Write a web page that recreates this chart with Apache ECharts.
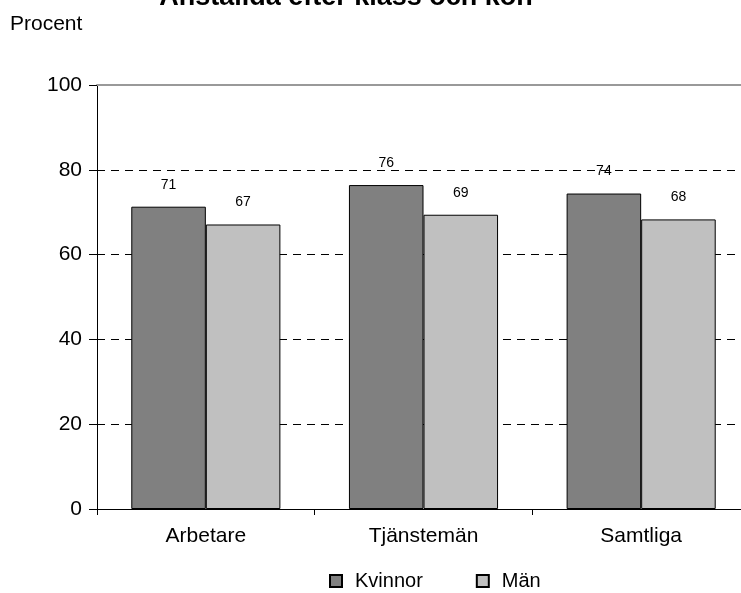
<!DOCTYPE html>
<html><head><meta charset="utf-8">
<script src="https://cdn.jsdelivr.net/npm/echarts@6/dist/echarts.min.js"></script>
<style>html,body{margin:0;padding:0;background:#fff;overflow:hidden}#c{width:760px;height:593px}</style>
</head><body><div id="c"></div>
<script>
const categories = ['Arbetare', 'Tjänstemän', 'Samtliga'];
const kvinnor = [71.3, 76.4, 74.4];
const man = [67.1, 69.4, 68.3];
const yTicks = [0, 20, 40, 60, 80, 100];

const FF = 'Liberation Sans, Arial, sans-serif';
const chart = echarts.init(document.getElementById('c'));
const lbl = {show: true, position: 'top', distance: 15, fontSize: 14, color: '#000',
  fontFamily: FF, formatter: p => Math.round(p.value)};
chart.setOption({
  animation: false,
  title: [{text: 'Anställda efter klass och kön', left: 341, textAlign: 'center', top: -21,
    textStyle: {fontSize: 27, fontWeight: 'bold', color: '#000', fontFamily: FF}},
    {text: 'Procent', left: 5, top: 9, textStyle: {fontSize: 21, fontWeight: 'normal', color: '#000', fontFamily: FF}}],
  legend: {top: 566, left: 324, itemGap: 53, itemWidth: 12, itemHeight: 12, icon: 'rect',
    textStyle: {fontSize: 20, color: '#000', fontFamily: FF, padding: [0, 0, 0, 8]},
    data: ['Kvinnor', 'Män']},
  grid: {left: 97, right: 10, top: 85, bottom: 84, containLabel: false},
  xAxis: [{type: 'category', data: categories,
    axisLine: {lineStyle: {color: '#000'}},
    axisTick: {show: true, length: 6, lineStyle: {color: '#000'}},
    axisLabel: {fontSize: 21, color: '#000', margin: 17, fontFamily: FF}},
    {type: 'category', data: categories, position: 'top',
    axisLine: {show: true, lineStyle: {color: '#999', width: 2}},
    axisTick: {show: false}, axisLabel: {show: false}, splitLine: {show: false}}],
  yAxis: {type: 'value', min: 0, max: 100, interval: 20,
    axisLine: {show: true, lineStyle: {color: '#000'}},
    axisTick: {show: true, length: 8, lineStyle: {color: '#000'}},
    axisLabel: {fontSize: 21, color: '#000', margin: 15, fontFamily: FF,
      formatter: v => yTicks.includes(v) ? String(v) : ''},
    splitLine: {show: true, lineStyle: {color: ['#000', '#000', '#000', '#000', '#000', 'rgba(0,0,0,0)'], type: [8, 6], width: 1}}},
  series: [
    {name: 'Kvinnor', type: 'bar', data: kvinnor, barGap: '0%', barCategoryGap: '31.5%',
      itemStyle: {color: '#808080', borderColor: '#000', borderWidth: 1}, label: lbl},
    {name: 'Män', type: 'bar', data: man,
      itemStyle: {color: '#c0c0c0', borderColor: '#000', borderWidth: 1}, label: lbl}
  ]
});
</script></body></html>
